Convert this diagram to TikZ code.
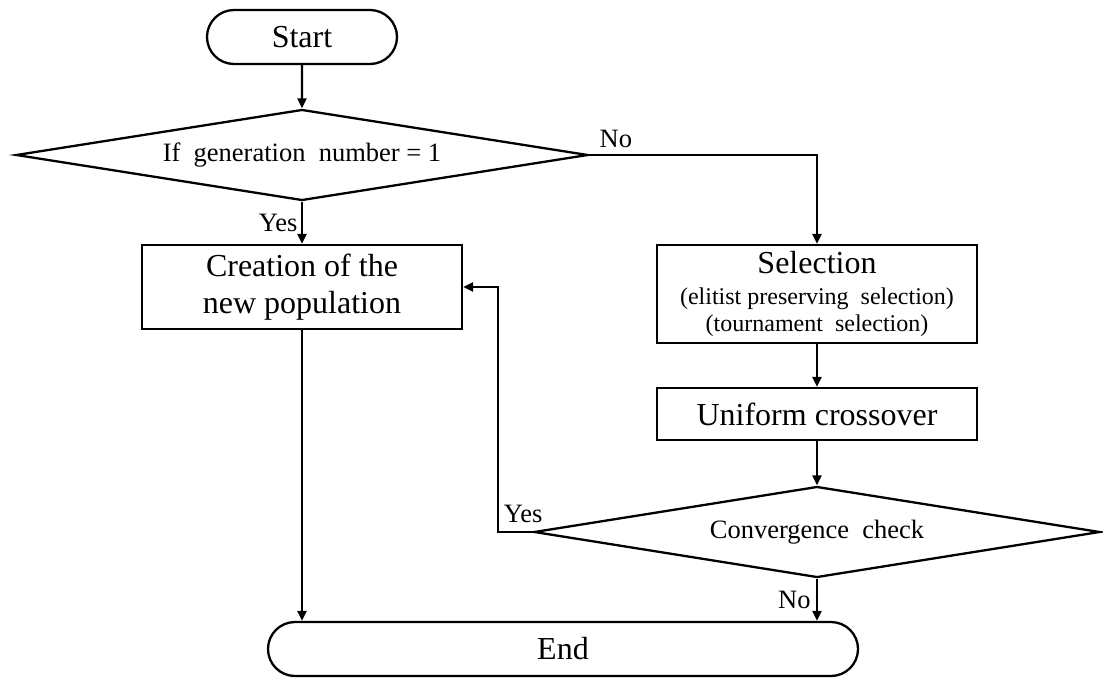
\documentclass[tikz,border=0pt]{standalone}
\usepackage{fontspec}
\setmainfont{Liberation Serif}
\usetikzlibrary{shapes.geometric,shapes.misc,arrows.meta}

\newcommand{\smalltext}{\fontsize{24}{27}\selectfont}

\begin{document}
\begin{tikzpicture}[x=1pt,y=-1pt,line width=2.3pt,
    big/.style={font=\fontsize{32}{37}\selectfont},
    small/.style={font=\fontsize{26.5}{30}\selectfont},
    term/.style={draw,rounded rectangle,inner sep=0pt,minimum height=54pt,big},
    box/.style={draw,rectangle,inner sep=0pt,align=center,minimum width=320pt,big},
    test/.style={draw,diamond,inner sep=0pt,shape aspect=6.25,small},
    flow/.style={-{Triangle[length=10pt,width=9pt]}}]
      \useasboundingbox (0,0) rectangle (1103,678) ;
      \node[term,minimum width=190pt] (start) at (302,37) {Start} ;
      \node[test,minimum width=572pt,minimum height=91pt] (first) at (302,155) %
        {If\ \ generation\ \ number = 1} ;
      \node[box,minimum height=84pt] (create) at (302,287) {Creation of the\\new population} ;
      \node[box,minimum height=98pt] (select) at (817,294) %
        {Selection\\[-6pt]\smalltext (elitist preserving\ \ selection)\\[-10pt]\smalltext (tournament\ \ selection)} ;
      \node[box,minimum height=52pt] (cross) at (817,414) {Uniform crossover} ;
      \node[test,minimum width=566pt,minimum height=91pt] (conv) at (817,532) %
        {Convergence\ \ check} ;
      \node[term,minimum width=590pt] (end) at (563,649) {End} ;
      \draw[flow] (start) -- (first) ;
      \draw[flow] (first) -- node[small,left]{Yes} (create) ;
      \draw[flow] (first.east) node[small,above right,xshift=6pt,yshift=3pt]{No} -| (select) ;
      \draw[flow] (select) -- (cross) ;
      \draw[flow] (cross) -- (conv) ;
      \draw[flow] (conv) -- node[small,left,xshift=-2pt]{No} (conv.south |- end.north) ;
      \draw[flow] (create) -- (create.south |- end.north) ;
      \draw[flow] (conv.west) node[small,above left,xshift=14pt,yshift=5pt]{Yes} %
        -| ([xshift=35pt]create.east) -- (create.east) ;
    \end{tikzpicture}
\end{document}
